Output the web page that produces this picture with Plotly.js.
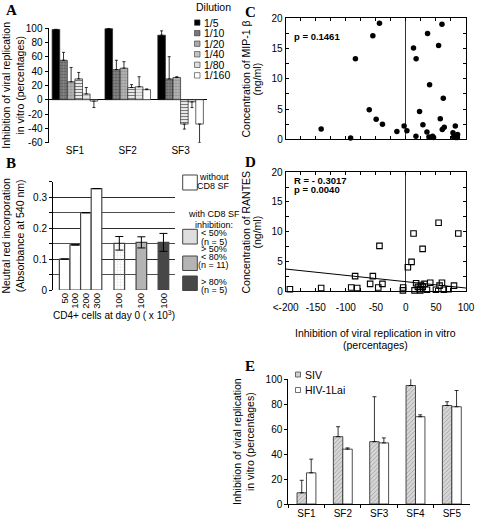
<!DOCTYPE html>
<html><head><meta charset="utf-8">
<script src="https://cdn.plot.ly/plotly-3.0.1.min.js"></script>
<style>html,body{margin:0;padding:0;background:#fff}#chart{width:480px;height:519px}</style>
</head><body><div id="chart"></div>
<script>
// ---------- Panel A data ----------
const aSamples = ['SF1', 'SF2', 'SF3'];
const aDilutions = ['1/5', '1/10', '1/20', '1/40', '1/80', '1/160'];
const aValues = [
  [98, 99, 90],     // 1/5
  [55, 42, 29],     // 1/10
  [25, 44, 31],     // 1/20
  [29, 17, -34],    // 1/40
  [8, 18, -3],      // 1/80
  [-2, 14, -34]     // 1/160
];
const aErrors = [
  [0, 0, 6],
  [11, 13, 31],
  [20, 9, 1],
  [9, 4, 7],
  [9, 14, 8],
  [9, 1, 26]
];
const aTickVals = [-60, -40, -20, 0, 20, 40, 60, 80, 100];
const aTickText = ['-60', '-40', '-20', '0', '20', '40', '60', '80', '100'];

// ---------- Panel B data ----------
const bCells = ['50', '100', '200', '300', '100', '100', '100'];
const bValues = [0.100, 0.146, 0.250, 0.328, 0.151, 0.154, 0.154];
const bErrors = [0, 0, 0, 0, 0.022, 0.018, 0.029];
const bLegendLabels = ['without', 'CD8 SF', 'with CD8 SF', 'inhibition:', '< 50%', '(n = 5)', '> 50%', '< 80%', '(n = 11)', '> 80%', '(n = 5)'];
const bTickVals = [0, 0.1, 0.2, 0.3];
const bTickText = ['0', '0.1', '0.2', '0.3'];

// ---------- Panel C data (MIP-1 beta) ----------
const cX = [-141, -92, -84, -61, -55, -49.5, -44, -39, -15, -3, 1.7, 12.7, 17, 16.7, 22.7, 28.3, 35, 36, 39.4, 38.3, 44.4, 46, 54.4, 57.2, 60, 62.2, 60.5, 63.8, 78.3, 82.2, 79.4, 82.8, 86, 85.6];
const cY = [1.7, 0.2, 13.3, 4.9, 17.1, 3.3, 19.2, 2.5, 1.3, 2.2, 1.4, 15.1, 13.3, 0.5, 4.6, 2.4, 1.2, 17.5, 9.0, 0.4, 0.5, 0.3, 15.5, 3.4, 19.0, 6.8, 1.6, 2.0, 1.1, 2.2, 0.4, 0.3, 0.8, 0.3];
const cStat = 'p = 0.1461';

// ---------- Panel D data (RANTES) ----------
const dX = [-193, -141, -91, -81, -84.5, -59.5, -55, -46, -44, -39, -4.5, -5, 3.3, 9.4, 12.7, 14.4, 17, 20, 23, 25, 27.8, 28, 31, 35, 40.5, 50, 54.4, 56, 60, 63, 71, 80, 87.2, 24];
const dY = [0.3, 0.5, 0.6, 0.5, 2.5, 1.2, 2.5, 0.6, 7.6, 1.2, 0.6, 0.1, 4.0, 4.9, 9.7, 0.1, 1.3, 0.7, 0.3, 1.0, 7.1, 0.7, 1.2, 0.2, 1.4, 0.2, 11.5, 0.9, 1.4, 0.2, 0.3, 0.9, 9.7, 0.1];
const dFitX = [-200, 100];
const dFitY = [3.7, 0.5];
const dStats = ['R = - 0.3017', 'p = 0.0040'];
const cdTickVals = [-200, -150, -100, -50, 0, 50, 100];
const dTickText = ['<-200', '-150', '-100', '-50', '0', '50', '100'];
const cdYTickVals = [0, 5, 10, 15, 20];
const cdYTickText = ['0', '5', '10', '15', '20'];
const cTitle = ['Concentration of MIP-1 β', '(ng/ml)'];
const dTitle = ['Concentration of RANTES', '(ng/ml)'];
const dXTitle = ['Inhibition of viral replication in vitro', '(percentages)'];

// ---------- Panel E data ----------
const eSamples = ['SF1', 'SF2', 'SF3', 'SF4', 'SF5'];
const eSeries = ['SIV', 'HIV-1Lai'];
const eSIV = [9, 54, 50, 95, 79];
const eSIVerr = [10, 8, 36, 6, 3];
const eHIV = [25, 44, 49, 70, 78];
const eHIVerr = [11, 1, 4, 1.5, 13];

// ---------- helpers / styles ----------
const W = 480, H = 519;
const X = p => p / W;
const Y = p => 1 - p / H;
const FONT = 'Liberation Sans, Arial, sans-serif';
const SERIF = 'Liberation Serif, Times New Roman, serif';

const aStyles = [
  {color: '#000000', pattern: {shape: ''}, sw: '#000000'},
  {color: '#7a7a7a', pattern: {shape: '.', fgcolor: '#555', bgcolor: '#858585', size: 3, solidity: 0.3}, sw: '#777'},
  {color: '#ababab', pattern: {shape: '.', fgcolor: '#8a8a8a', bgcolor: '#b5b5b5', size: 3, solidity: 0.3}, sw: '#aaa'},
  {color: '#ffffff', pattern: {shape: '-', fgcolor: '#7a7a7a', bgcolor: '#ffffff', size: 3, solidity: 0.45}, sw: '#c4c4c4'},
  {color: '#e2e2e2', pattern: {shape: '-', fgcolor: '#bdbdbd', bgcolor: '#ececec', size: 3, solidity: 0.4}, sw: '#dedede'},
  {color: '#ffffff', pattern: {shape: ''}, sw: '#ffffff'}
];

const traces = [];
const aW = 0.1437;
aDilutions.forEach((d, i) => {
  const vals = aValues[i], errs = aErrors[i];
  traces.push({
    type: 'bar', name: d, x: aSamples, y: vals, xaxis: 'x', yaxis: 'y',
    width: aW, offset: -3 * aW + i * aW, showlegend: false,
    marker: {color: aStyles[i].color, pattern: aStyles[i].pattern, line: {color: '#222', width: 0.7}},
    error_y: {type: 'data', symmetric: false,
      array: vals.map((v, k) => v >= 0 ? errs[k] : 0),
      arrayminus: vals.map((v, k) => v < 0 ? errs[k] : 0),
      color: '#000', thickness: 0.8, width: 1.5}
  });
});

// Panel B: single bar trace
const bColors = ['#ffffff', '#ffffff', '#ffffff', '#ffffff', '#dedede', '#b4b4b4', '#474747'];
const bPatterns = ['', '', '', '', '.', '', ''];
const bPos = bCells.map((c, i) => i < 4 ? 1.1 + i : 6.25 + 2.08 * (i - 4));
traces.push({
  type: 'bar', x: bPos, y: bValues, xaxis: 'x2', yaxis: 'y2', width: 1, showlegend: false,
  marker: {color: bColors, pattern: {shape: bPatterns, fgcolor: '#a0a0a0', bgcolor: '#e6e6e6', size: 3, solidity: 0.25},
    line: {color: '#444', width: 1.2}},
  error_y: {type: 'data', array: bErrors, color: '#000', thickness: 1, width: 4}
});

// Panel C
traces.push({type: 'scatter', mode: 'markers', x: cX, y: cY, xaxis: 'x3', yaxis: 'y3', showlegend: false,
  marker: {color: '#000', size: 5.5}, cliponaxis: false});
// Panel D
traces.push({type: 'scatter', mode: 'lines', x: dFitX, y: dFitY, xaxis: 'x4', yaxis: 'y4', showlegend: false,
  line: {color: '#000', width: 1}});
traces.push({type: 'scatter', mode: 'markers', x: dX, y: dY, xaxis: 'x4', yaxis: 'y4', showlegend: false,
  marker: {symbol: 'square-open', color: '#000', size: 5.5, line: {width: 1.1}}, cliponaxis: false});

// Panel E
const eW = 0.26;
traces.push({type: 'bar', name: eSeries[0], x: eSamples, y: eSIV, xaxis: 'x5', yaxis: 'y5', width: eW, offset: -eW, showlegend: false,
  marker: {color: '#d0d0d0', pattern: {shape: '/', fgcolor: '#9a9a9a', bgcolor: '#d6d6d6', size: 3, solidity: 0.25}, line: {color: '#222', width: 0.8}},
  error_y: {type: 'data', symmetric: false, array: eSIVerr, arrayminus: eSIV.map(() => 0), color: '#000', thickness: 0.8, width: 2}});
traces.push({type: 'bar', name: eSeries[1], x: eSamples, y: eHIV, xaxis: 'x5', yaxis: 'y5', width: eW, offset: 0, showlegend: false,
  marker: {color: '#ffffff', line: {color: '#222', width: 0.8}},
  error_y: {type: 'data', symmetric: false, array: eHIVerr, arrayminus: eHIV.map(() => 0), color: '#000', thickness: 0.8, width: 2}});

// ---------- annotations & shapes ----------
const ann = [];
const shapes = [];
const txt = (t, x, y, opts) => Object.assign({text: t, x: X(x), y: Y(y), xref: 'paper', yref: 'paper', showarrow: false,
  xanchor: 'left', yanchor: 'middle', font: {family: FONT, size: 10, color: '#000'}}, opts || {});
const titleFont = {family: FONT, size: 10.5, color: '#000'};

// panel letters
[['A', 4, 10], ['B', 4, 163], ['C', 243, 12], ['D', 243, 162], ['E', 243, 366]].forEach(([l, x, y]) =>
  ann.push(txt('<b>' + l + '</b>', x, y, {font: {family: SERIF, size: 15, color: '#000'}})));

// A legend
ann.push(txt('Dilution', 213.5, 7, {xanchor: 'center', font: {family: FONT, size: 10.5, color: '#000'}}));
aDilutions.forEach((d, i) => {
  const yc = 22.6 + i * 10.55;
  shapes.push({type: 'rect', xref: 'paper', yref: 'paper', x0: X(194.5), x1: X(200), y0: Y(yc + 2.7), y1: Y(yc - 2.7),
    fillcolor: aStyles[i].sw, line: {color: '#333', width: 0.6}});
  ann.push(txt(d, 201.5, yc, {font: {family: FONT, size: 10.5, color: '#000'}}));
});

// B legend
const bBoxes = [[175, 190, '#ffffff'], [229.3, 244, '#dedede'], [256, 270.5, '#b4b4b4'], [276, 290.5, '#474747']];
bBoxes.forEach(([y0, y1, c]) => shapes.push({type: 'rect', xref: 'paper', yref: 'paper', x0: X(182.7), x1: X(197.3),
  y0: Y(y1), y1: Y(y0), fillcolor: c, line: {color: '#444', width: 1}}));
const bLegendY = [177, 186.3, 214.3, 224.6, 233.3, 241.7, 248.8, 257, 265.2, 281.7, 289.8];
bLegendLabels.forEach((t, i) => ann.push(txt(t, 213.5, bLegendY[i], {xanchor: 'center', font: {family: FONT, size: 9, color: '#000'}})));

// C / D stats
ann.push(txt('<b>' + cStat + '</b>', 291.5, 37, {font: {family: FONT, size: 9.5, color: '#000'}}));
ann.push(txt('<b>' + dStats[0] + '</b>', 291.5, 180, {font: {family: FONT, size: 9.5, color: '#000'}}));
ann.push(txt('<b>' + dStats[1] + '</b>', 291.5, 189.6, {font: {family: FONT, size: 9.5, color: '#000'}}));

// C / D axis titles
ann.push(txt(cTitle[0], 245.5, 79, {xanchor: 'center', textangle: -90, font: titleFont}));
ann.push(txt(cTitle[1], 256.5, 79, {xanchor: 'center', textangle: -90, font: titleFont}));
ann.push(txt(dTitle[0], 245.5, 232, {xanchor: 'center', textangle: -90, font: titleFont}));
ann.push(txt(dTitle[1], 256.5, 232, {xanchor: 'center', textangle: -90, font: titleFont}));
ann.push(txt(dXTitle[0], 375.5, 332.5, {xanchor: 'center', font: titleFont}));
ann.push(txt(dXTitle[1], 375.5, 344.5, {xanchor: 'center', font: titleFont}));

// E legend
const eSw = ['#d0d0d0', '#ffffff'];
eSeries.forEach((s, i) => {
  const yc = 374.5 + i * 15.5;
  shapes.push({type: 'rect', xref: 'paper', yref: 'paper', x0: X(295.5), x1: X(300.5), y0: Y(yc + 2.5), y1: Y(yc - 2.5),
    fillcolor: eSw[i], line: {color: '#333', width: 0.7}});
  ann.push(txt(s, 302.5, yc, {font: {family: FONT, size: 10.5, color: '#000'}}));
});

const tf = {family: FONT, size: 10, color: '#000'};
const boxAxis = {showline: true, mirror: 'ticks', linecolor: '#000', linewidth: 1, ticks: 'inside', ticklen: 3,
  tickcolor: '#000', showgrid: false, tickangle: 0};
const layout = {
  width: W, height: H, margin: {l: 0, r: 0, t: 0, b: 0}, paper_bgcolor: '#fff', plot_bgcolor: 'rgba(0,0,0,0)',
  barmode: 'overlay', showlegend: false, font: tf,
  xaxis: {domain: [X(48.5), X(207)], anchor: 'y', type: 'category', range: [-0.5, 2.5], showline: false, ticks: '',
    showgrid: false, zeroline: false, tickfont: tf},
  yaxis: {domain: [Y(142.7), Y(28)], anchor: 'x', range: [-60, 100], tickvals: aTickVals, ticktext: aTickText,
    showline: true, linecolor: '#000', linewidth: 1, ticks: 'outside', ticklen: 3, tickcolor: '#000',
    zeroline: true, zerolinecolor: '#000', zerolinewidth: 1, showgrid: false, tickfont: tf,
    title: {text: 'Inhibition of viral replication<br>in vitro (percentages)', font: titleFont, standoff: 4}},
  xaxis2: {domain: [X(53), X(175)], anchor: 'y2', range: [0, 11.5], tickvals: bPos, ticktext: bCells, tickangle: -90,
    showline: false, ticks: '', showgrid: false, zeroline: false, tickfont: {family: FONT, size: 9.5, color: '#000'},
    title: {text: 'CD4+ cells at day 0 ( x 10<sup>3</sup>)', font: {family: FONT, size: 10, color: '#000'}, standoff: 2}},
  yaxis2: {domain: [Y(290), Y(181.7)], anchor: 'x2', range: [0, 0.3502], tickvals: bTickVals, ticktext: bTickText,
    showline: true, linecolor: '#000', linewidth: 1, ticks: 'outside', ticklen: 3, tickcolor: '#000',
    showgrid: true, gridcolor: '#222', gridwidth: 0.8, zeroline: false, tickfont: tf,
    minor: {dtick: 0.05, showgrid: true, gridcolor: '#222', gridwidth: 0.8, ticks: 'outside', ticklen: 3, tickcolor: '#000'},
    title: {text: 'Neutral red incorporation<br>(Absorbance at 540 nm)', font: titleFont, standoff: 10}},
  xaxis3: Object.assign({}, boxAxis, {domain: [X(285.7), X(466)], anchor: 'y3', range: [-200, 100], tickvals: cdTickVals,
    showticklabels: false, zeroline: true, zerolinecolor: '#333', zerolinewidth: 1,
    minor: {dtick: 25, ticks: 'inside', ticklen: 3, tickcolor: '#000'}}),
  yaxis3: Object.assign({}, boxAxis, {domain: [Y(139.3), Y(18.3)], anchor: 'x3', range: [0, 20], tickvals: cdYTickVals,
    ticktext: cdYTickText, zeroline: false, tickfont: tf, minor: {dtick: 2.5, ticks: 'inside', ticklen: 3, tickcolor: '#000'}}),
  xaxis4: Object.assign({}, boxAxis, {domain: [X(285.7), X(466)], anchor: 'y4', range: [-200, 100], tickvals: cdTickVals,
    ticktext: dTickText, zeroline: true, zerolinecolor: '#333', zerolinewidth: 1, tickfont: tf, ticklabelstandoff: 7,
    minor: {dtick: 25, ticks: 'inside', ticklen: 3, tickcolor: '#000'}}),
  yaxis4: Object.assign({}, boxAxis, {domain: [Y(291), Y(172.3)], anchor: 'x4', range: [0, 20], tickvals: cdYTickVals,
    ticktext: cdYTickText, zeroline: false, tickfont: tf, minor: {dtick: 2.5, ticks: 'inside', ticklen: 3, tickcolor: '#000'}}),
  xaxis5: {domain: [X(288.3), X(470)], anchor: 'y5', type: 'category', range: [-0.5, 4.5], tickson: 'boundaries',
    showline: true, linecolor: '#000', linewidth: 1, ticks: 'outside', ticklen: 3, tickcolor: '#000',
    showgrid: false, zeroline: false, tickfont: tf},
  yaxis5: {domain: [Y(504), Y(379.3)], anchor: 'x5', range: [0, 100], dtick: 20,
    showline: true, linecolor: '#000', linewidth: 1, ticks: 'outside', ticklen: 3, tickcolor: '#000',
    showgrid: false, zeroline: false, tickfont: tf,
    title: {text: 'Inhibition of viral replication<br>in vitro (percentages)', font: titleFont, standoff: 8}},
  annotations: ann, shapes: shapes
};

Plotly.newPlot('chart', traces, layout, {staticPlot: true, displayModeBar: false});
</script></body></html>
